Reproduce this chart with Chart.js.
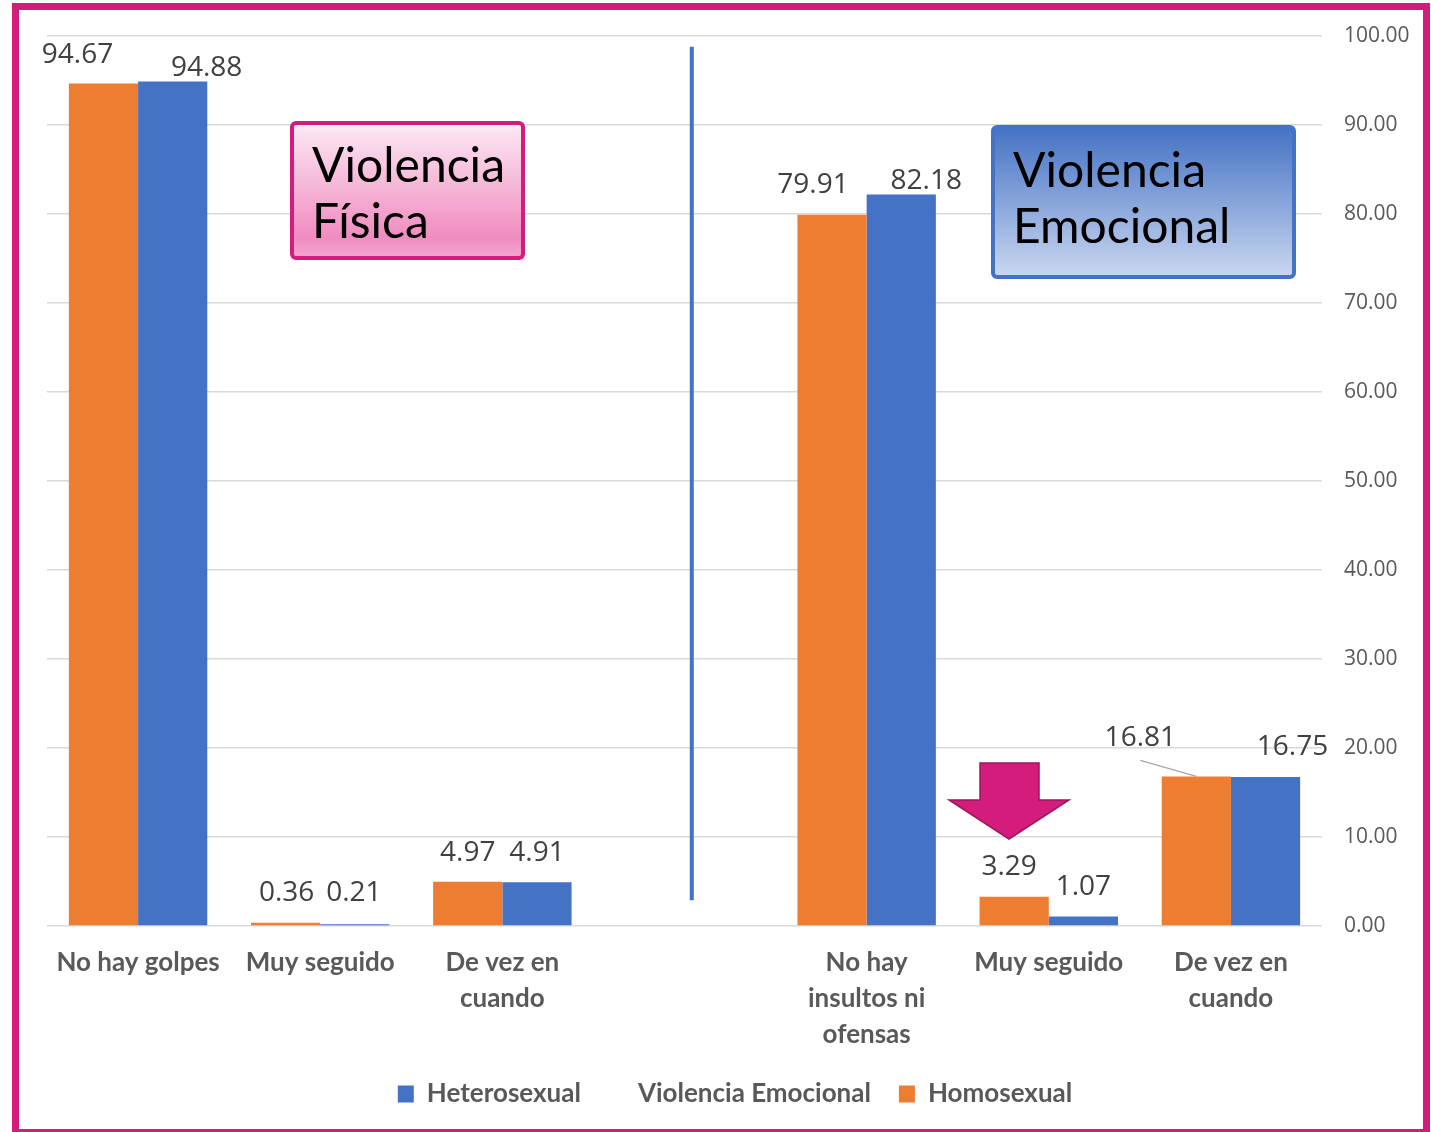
<!DOCTYPE html>
<html lang="es">
<head>
<meta charset="utf-8">
<title>Violencia física y emocional</title>
<script src="https://cdn.jsdelivr.net/npm/chart.js@4.4.0/dist/chart.umd.min.js"></script>
<style>
    html, body { margin: 0; padding: 0; background: #ffffff; }
    #marco {
        position: absolute;
        left: 12px;
        top: 3px;
        width: 1404px;
        height: 1119px;
        border: 7px solid #D41C7C;
        background: #ffffff;
    }
    #grafico { display: block; }
</style>
</head>
<body>
<div id="marco">
    <canvas id="grafico" width="1404" height="1119"></canvas>
</div>
<script>
// Categorías (la categoría vacía separa los dos bloques)
const categorias = [
    'No hay golpes',
    'Muy seguido',
    ['De vez en', 'cuando'],
    '',
    ['No hay', 'insultos ni', 'ofensas'],
    'Muy seguido',
    ['De vez en', 'cuando']
];

// Series
const homosexual = [94.67, 0.36, 4.97, null, 79.91, 3.29, 16.81];
const heterosexual = [94.88, 0.21, 4.91, null, 82.18, 1.07, 16.75];

// Línea separadora "Violencia Emocional": posición (índice de categoría) y extremos en Y
const separadorX = 3.04;
const separadorY = [98.8, 2.9];

// Marcas del eje Y
const ejeMin = 0;
const ejeMax = 100;
const ejePaso = 10;

// Orden de la leyenda
const ordenLeyenda = ['Heterosexual', 'Violencia Emocional', 'Homosexual'];

// Desplazamiento de cada etiqueta de valor respecto a la parte superior de su barra [dx, dy]
const desplHomo = [[-26, -28], [1, -30], [0, -29], null, [-19, -30], [-5, -30], [-56, -38]];
const desplHetero = [[34, -14], [-1, -31], [0, -29], null, [25, -14], [0, -29], [27, -30]];

const NARANJA = '#ED7D31';
const AZUL = '#4472C4';
const ROSA = '#D41C7C';

/**
 * Etiquetas con los valores encima de las barras
 */
const etiquetasPlugin = {
    id: 'etiquetas',
    afterDatasetsDraw(chart) {
        const ctx = chart.ctx;
        ctx.save();
        ctx.font = '28px "Open Sans"';
        ctx.fillStyle = '#404040';
        ctx.textAlign = 'center';
        ctx.textBaseline = 'middle';

        chart.data.datasets.forEach((ds, i) => {
            if (!ds.despl) return;
            const meta = chart.getDatasetMeta(i);
            meta.data.forEach((barra, j) => {
                const valor = ds.data[j];
                if (valor == null) return;
                const [dx, dy] = ds.despl[j];
                const x = barra.x + dx;
                const y = barra.y + dy;
                ctx.fillText(valor.toFixed(2), x, y);

                // Línea guía cuando la etiqueta queda lejos de la barra
                if (Math.abs(dx) > 40) {
                    ctx.strokeStyle = '#A6A6A6';
                    ctx.lineWidth = 1.2;
                    ctx.beginPath();
                    ctx.moveTo(x, y + 22);
                    ctx.lineTo(barra.x, barra.y);
                    ctx.stroke();
                }
            });
        });
        ctx.restore();
    }
};

/**
 * Cuadros de título y flecha
 */
const decoracionPlugin = {
    id: 'decoracion',
    afterDraw(chart) {
        const ctx = chart.ctx;
        ctx.save();

        const cuadro = (x, y, w, h, colores, borde, lineas, tx, bases) => {
            const grad = ctx.createLinearGradient(0, y, 0, y + h);
            colores.forEach(([p, c]) => grad.addColorStop(p, c));
            ctx.fillStyle = grad;
            ctx.beginPath();
            ctx.roundRect(x, y, w, h, 4);
            ctx.fill();
            ctx.strokeStyle = borde;
            ctx.lineWidth = 4;
            ctx.stroke();

            ctx.fillStyle = '#000000';
            ctx.font = '48px Lato';
            ctx.textAlign = 'left';
            ctx.textBaseline = 'alphabetic';
            lineas.forEach((t, k) => ctx.fillText(t, tx, bases[k]));
        };

        cuadro(273, 113, 231, 135,
            [[0, '#FCEAF4'], [0.85, '#F08CC0'], [1, '#F4A8D0']],
            ROSA, ['Violencia', 'Física'], 293, [172, 228]);

        cuadro(974, 117, 301, 150,
            [[0, '#4472C4'], [1, '#CAD7F0']],
            AZUL, ['Violencia', 'Emocional'], 994, [177, 233]);

        // Flecha hacia abajo
        ctx.beginPath();
        ctx.moveTo(961, 753);
        ctx.lineTo(1020, 753);
        ctx.lineTo(1020, 790);
        ctx.lineTo(1050, 790);
        ctx.lineTo(990, 829);
        ctx.lineTo(930, 790);
        ctx.lineTo(961, 790);
        ctx.closePath();
        ctx.fillStyle = ROSA;
        ctx.fill();
        ctx.strokeStyle = '#A0155D';
        ctx.lineWidth = 1.5;
        ctx.stroke();

        ctx.restore();
    }
};

new Chart(document.getElementById('grafico'), {
    type: 'bar',
    data: {
        labels: categorias,
        datasets: [
            {
                label: 'Homosexual',
                data: homosexual,
                backgroundColor: NARANJA,
                despl: desplHomo,
                order: 2
            },
            {
                label: 'Heterosexual',
                data: heterosexual,
                backgroundColor: AZUL,
                despl: desplHetero,
                order: 2
            },
            {
                type: 'line',
                label: 'Violencia Emocional',
                parsing: false,
                data: separadorY.map(v => ({ x: separadorX, y: v })),
                borderColor: AZUL,
                backgroundColor: AZUL,
                borderWidth: 4,
                pointRadius: 0,
                order: 1
            }
        ]
    },
    options: {
        responsive: false,
        animation: false,
        categoryPercentage: 0.76,
        barPercentage: 1,
        layout: {
            padding: { top: 26, left: 28, right: 0, bottom: 12 }
        },
        scales: {
            x: {
                grid: { display: false },
                border: { display: false },
                ticks: {
                    color: '#595959',
                    font: { family: 'Lato', size: 26, weight: 'bold', lineHeight: 1.385 },
                    padding: 11,
                    maxRotation: 0,
                    autoSkip: false
                },
                afterFit(scale) { scale.height = 127; }
            },
            y: {
                position: 'right',
                min: ejeMin,
                max: ejeMax,
                grid: {
                    color: '#D9D9D9',
                    lineWidth: 1.5,
                    drawTicks: true,
                    tickLength: 22,
                    tickColor: 'rgba(0,0,0,0)'
                },
                border: { display: false },
                ticks: {
                    stepSize: ejePaso,
                    padding: 0,
                    color: '#595959',
                    font: { family: 'Open Sans', size: 21 },
                    callback: v => v.toFixed(2)
                },
                afterFit(scale) { scale.width = 101; }
            }
        },
        plugins: {
            tooltip: { enabled: false },
            legend: {
                position: 'bottom',
                labels: {
                    color: '#595959',
                    font: { family: 'Lato', size: 26, weight: 'bold' },
                    boxWidth: 16,
                    boxHeight: 17,
                    padding: 28,
                    generateLabels(chart) {
                        const items = Chart.defaults.plugins.legend.labels.generateLabels(chart);
                        items.forEach(it => {
                            it.lineWidth = 0;
                            if (it.text === 'Violencia Emocional') {
                                it.fillStyle = 'rgba(0,0,0,0)';
                                it.strokeStyle = 'rgba(0,0,0,0)';
                            }
                        });
                        return items.sort((a, b) => ordenLeyenda.indexOf(a.text) - ordenLeyenda.indexOf(b.text));
                    }
                }
            }
        }
    },
    plugins: [etiquetasPlugin, decoracionPlugin]
});
</script>
</body>
</html>
